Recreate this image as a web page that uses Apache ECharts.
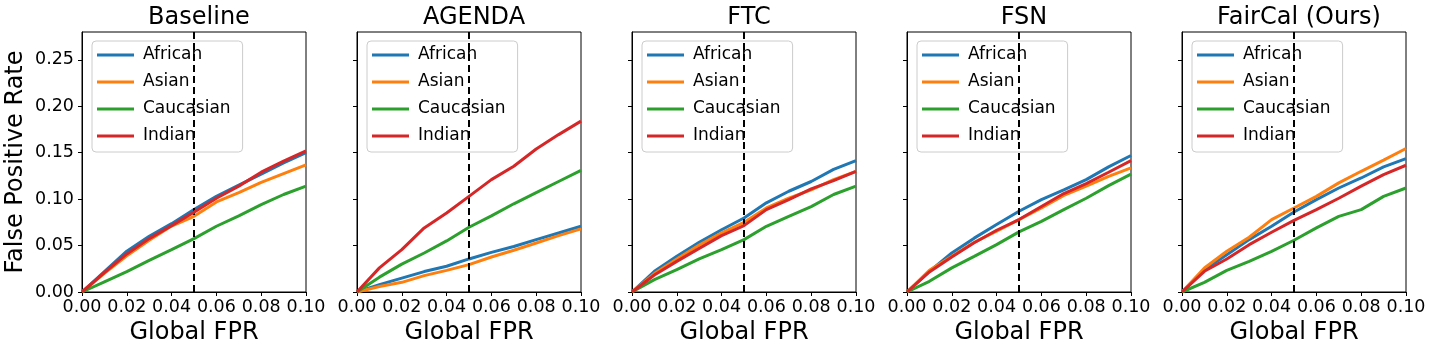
<!DOCTYPE html>
<html>
<head>
    <meta charset="utf-8">
    <title>FPR by ethnicity</title>
    <script src="https://cdn.jsdelivr.net/npm/echarts@6/dist/echarts.min.js"></script>
    <style>
        html, body { margin: 0; padding: 0; background: #fff; }
        #chart { width: 1432px; height: 352px; }
    </style>
</head>
<body>
    <div id="chart"></div>
    <script>
        // global FPR sample points (x axis)
        const globalFpr = [0, 0.01, 0.02, 0.03, 0.04, 0.05, 0.06, 0.07, 0.08, 0.09, 0.10];

        const methods = ['Baseline', 'AGENDA', 'FTC', 'FSN', 'FairCal (Ours)'];
        const groups = ['African', 'Asian', 'Caucasian', 'Indian'];
        const colors = ['#1f77b4', '#ff7f0e', '#2ca02c', '#d62728'];

        const xTicks = [0, 0.02, 0.04, 0.06, 0.08, 0.10];
        const yTicks = [0, 0.05, 0.10, 0.15, 0.20, 0.25];
        const threshold = 0.05;

        // Baseline
        const baselineAfrican   = [0, 0.022, 0.044, 0.060, 0.0736, 0.0887, 0.103, 0.115, 0.127, 0.139, 0.150];
        const baselineAsian     = [0, 0.020, 0.039, 0.0557, 0.071, 0.0815, 0.097, 0.107, 0.118, 0.1275, 0.137];
        const baselineCaucasian = [0, 0.011, 0.022, 0.034, 0.0456, 0.0575, 0.0708, 0.082, 0.094, 0.105, 0.114];
        const baselineIndian    = [0, 0.021, 0.041, 0.0575, 0.0715, 0.086, 0.101, 0.114, 0.129, 0.141, 0.152];

        // AGENDA
        const agendaAfrican   = [0, 0.008, 0.015, 0.022, 0.0277, 0.0356, 0.0427, 0.049, 0.0564, 0.0636, 0.0708];
        const agendaAsian     = [0, 0.006, 0.0104, 0.0176, 0.0233, 0.0295, 0.0377, 0.045, 0.0528, 0.0607, 0.068];
        const agendaCaucasian = [0, 0.016, 0.030, 0.042, 0.055, 0.0697, 0.082, 0.095, 0.107, 0.119, 0.131];
        const agendaIndian    = [0, 0.026, 0.0456, 0.069, 0.085, 0.103, 0.121, 0.1354, 0.154, 0.1695, 0.184];

        // FTC
        const ftcAfrican   = [0, 0.0223, 0.0384, 0.0535, 0.067, 0.0797, 0.096, 0.1085, 0.119, 0.132, 0.1415];
        const ftcAsian     = [0, 0.0198, 0.0356, 0.0506, 0.0636, 0.075, 0.0905, 0.101, 0.110, 0.121, 0.130];
        const ftcCaucasian = [0, 0.0133, 0.024, 0.0356, 0.0456, 0.0564, 0.0708, 0.0815, 0.092, 0.105, 0.114];
        const ftcIndian    = [0, 0.0183, 0.033, 0.047, 0.0607, 0.0715, 0.0887, 0.0995, 0.111, 0.120, 0.130];

        // FSN
        const fsnAfrican   = [0, 0.0223, 0.042, 0.058, 0.0726, 0.087, 0.0995, 0.110, 0.121, 0.1347, 0.147];
        const fsnAsian     = [0, 0.0233, 0.0384, 0.0535, 0.0654, 0.078, 0.0905, 0.104, 0.114, 0.1246, 0.1336];
        const fsnCaucasian = [0, 0.0115, 0.026, 0.0384, 0.051, 0.0647, 0.076, 0.0887, 0.101, 0.1146, 0.127];
        const fsnIndian    = [0, 0.0216, 0.0377, 0.053, 0.0665, 0.078, 0.092, 0.106, 0.1167, 0.129, 0.1415];

        // FairCal (Ours)
        const faircalAfrican   = [0, 0.024, 0.040, 0.0564, 0.0708, 0.0862, 0.0995, 0.112, 0.1228, 0.1347, 0.1437];
        const faircalAsian     = [0, 0.0259, 0.0438, 0.059, 0.078, 0.0905, 0.103, 0.1175, 0.130, 0.142, 0.1545];
        const faircalCaucasian = [0, 0.0104, 0.0233, 0.033, 0.0438, 0.0557, 0.069, 0.0815, 0.0887, 0.103, 0.112];
        const faircalIndian    = [0, 0.0223, 0.0356, 0.051, 0.0643, 0.0772, 0.0887, 0.101, 0.114, 0.1264, 0.1365];

        const panelData = [
            [baselineAfrican, baselineAsian, baselineCaucasian, baselineIndian],
            [agendaAfrican, agendaAsian, agendaCaucasian, agendaIndian],
            [ftcAfrican, ftcAsian, ftcCaucasian, ftcIndian],
            [fsnAfrican, fsnAsian, fsnCaucasian, fsnIndian],
            [faircalAfrican, faircalAsian, faircalCaucasian, faircalIndian]
        ];

        const font = 'DejaVu Sans';
        const gridLeft0 = 82, gridStep = 275, gridW = 224, gridTop = 32, gridH = 260;

        let chart = echarts.init(document.getElementById('chart'), null, { renderer: 'canvas' });

        let grids = [], xAxes = [], yAxes = [], titles = [], legends = [], series = [];

        methods.forEach((m, i) => {
            let left = gridLeft0 + i * gridStep;
            grids.push({
                left: left, top: gridTop, width: gridW, height: gridH,
                show: true, borderColor: '#000', borderWidth: 1, backgroundColor: 'transparent'
            });
            titles.push({
                text: m, left: left + gridW / 2, top: 1, textAlign: 'center',
                textStyle: { fontFamily: font, fontSize: 24, fontWeight: 'normal', color: '#000' }
            });
            xAxes.push({
                type: 'value', gridIndex: i, min: 0, max: 0.1,
                name: 'Global FPR', nameLocation: 'middle', nameGap: 29,
                nameTextStyle: { fontFamily: font, fontSize: 24, color: '#000' },
                axisLine: { show: true, lineStyle: { color: '#000', width: 1 } },
                axisTick: { show: true, length: 4, lineStyle: { color: '#000' }, customValues: xTicks },
                axisLabel: {
                    fontFamily: font, fontSize: 17.5, color: '#000', margin: 6,
                    customValues: xTicks, formatter: v => v.toFixed(2)
                },
                splitLine: { show: false }
            });
            yAxes.push({
                type: 'value', gridIndex: i, min: 0, max: 0.28,
                name: i === 0 ? 'False Positive Rate' : '', nameLocation: 'middle', nameGap: 54,
                nameTextStyle: { fontFamily: font, fontSize: 24, color: '#000' },
                axisLine: { show: true, lineStyle: { color: '#000', width: 1 } },
                axisTick: { show: true, length: 4, lineStyle: { color: '#000' }, customValues: yTicks },
                axisLabel: {
                    show: i === 0, fontFamily: font, fontSize: 17.5, color: '#000', margin: 8,
                    customValues: yTicks, formatter: v => v.toFixed(2)
                },
                splitLine: { show: false }
            });
            legends.push({
                data: groups, orient: 'vertical', left: left + 10, top: gridTop + 9,
                icon: 'rect', itemWidth: 37, itemHeight: 3, itemGap: 9,
                padding: [5, 12, 7, 5],
                backgroundColor: 'rgba(255,255,255,0.8)', borderColor: '#cccccc', borderWidth: 1, borderRadius: 4,
                textStyle: { fontFamily: font, fontSize: 17, color: '#000', lineHeight: 18, padding: [0, 0, 0, 4] },
                selectedMode: false
            });
            panelData[i].forEach((vals, g) => {
                let s = {
                    name: groups[g], type: 'line', xAxisIndex: i, yAxisIndex: i,
                    data: globalFpr.map((x, k) => [x, vals[k]]),
                    showSymbol: false, symbol: 'none',
                    lineStyle: { width: 3, color: colors[g] }, itemStyle: { color: colors[g] },
                    z: 2 + g
                };
                if (g === groups.length - 1) {
                    s.markLine = {
                        silent: true, symbol: 'none', animation: false,
                        label: { show: false },
                        lineStyle: { color: '#000', type: [7, 4], width: 2 },
                        data: [{ xAxis: threshold }]
                    };
                }
                series.push(s);
            });
        });

        let option = {
            animation: false,
            backgroundColor: '#fff',
            title: titles,
            legend: legends,
            grid: grids,
            xAxis: xAxes,
            yAxis: yAxes,
            series: series
        };

        chart.setOption(option);
    </script>
</body>
</html>
